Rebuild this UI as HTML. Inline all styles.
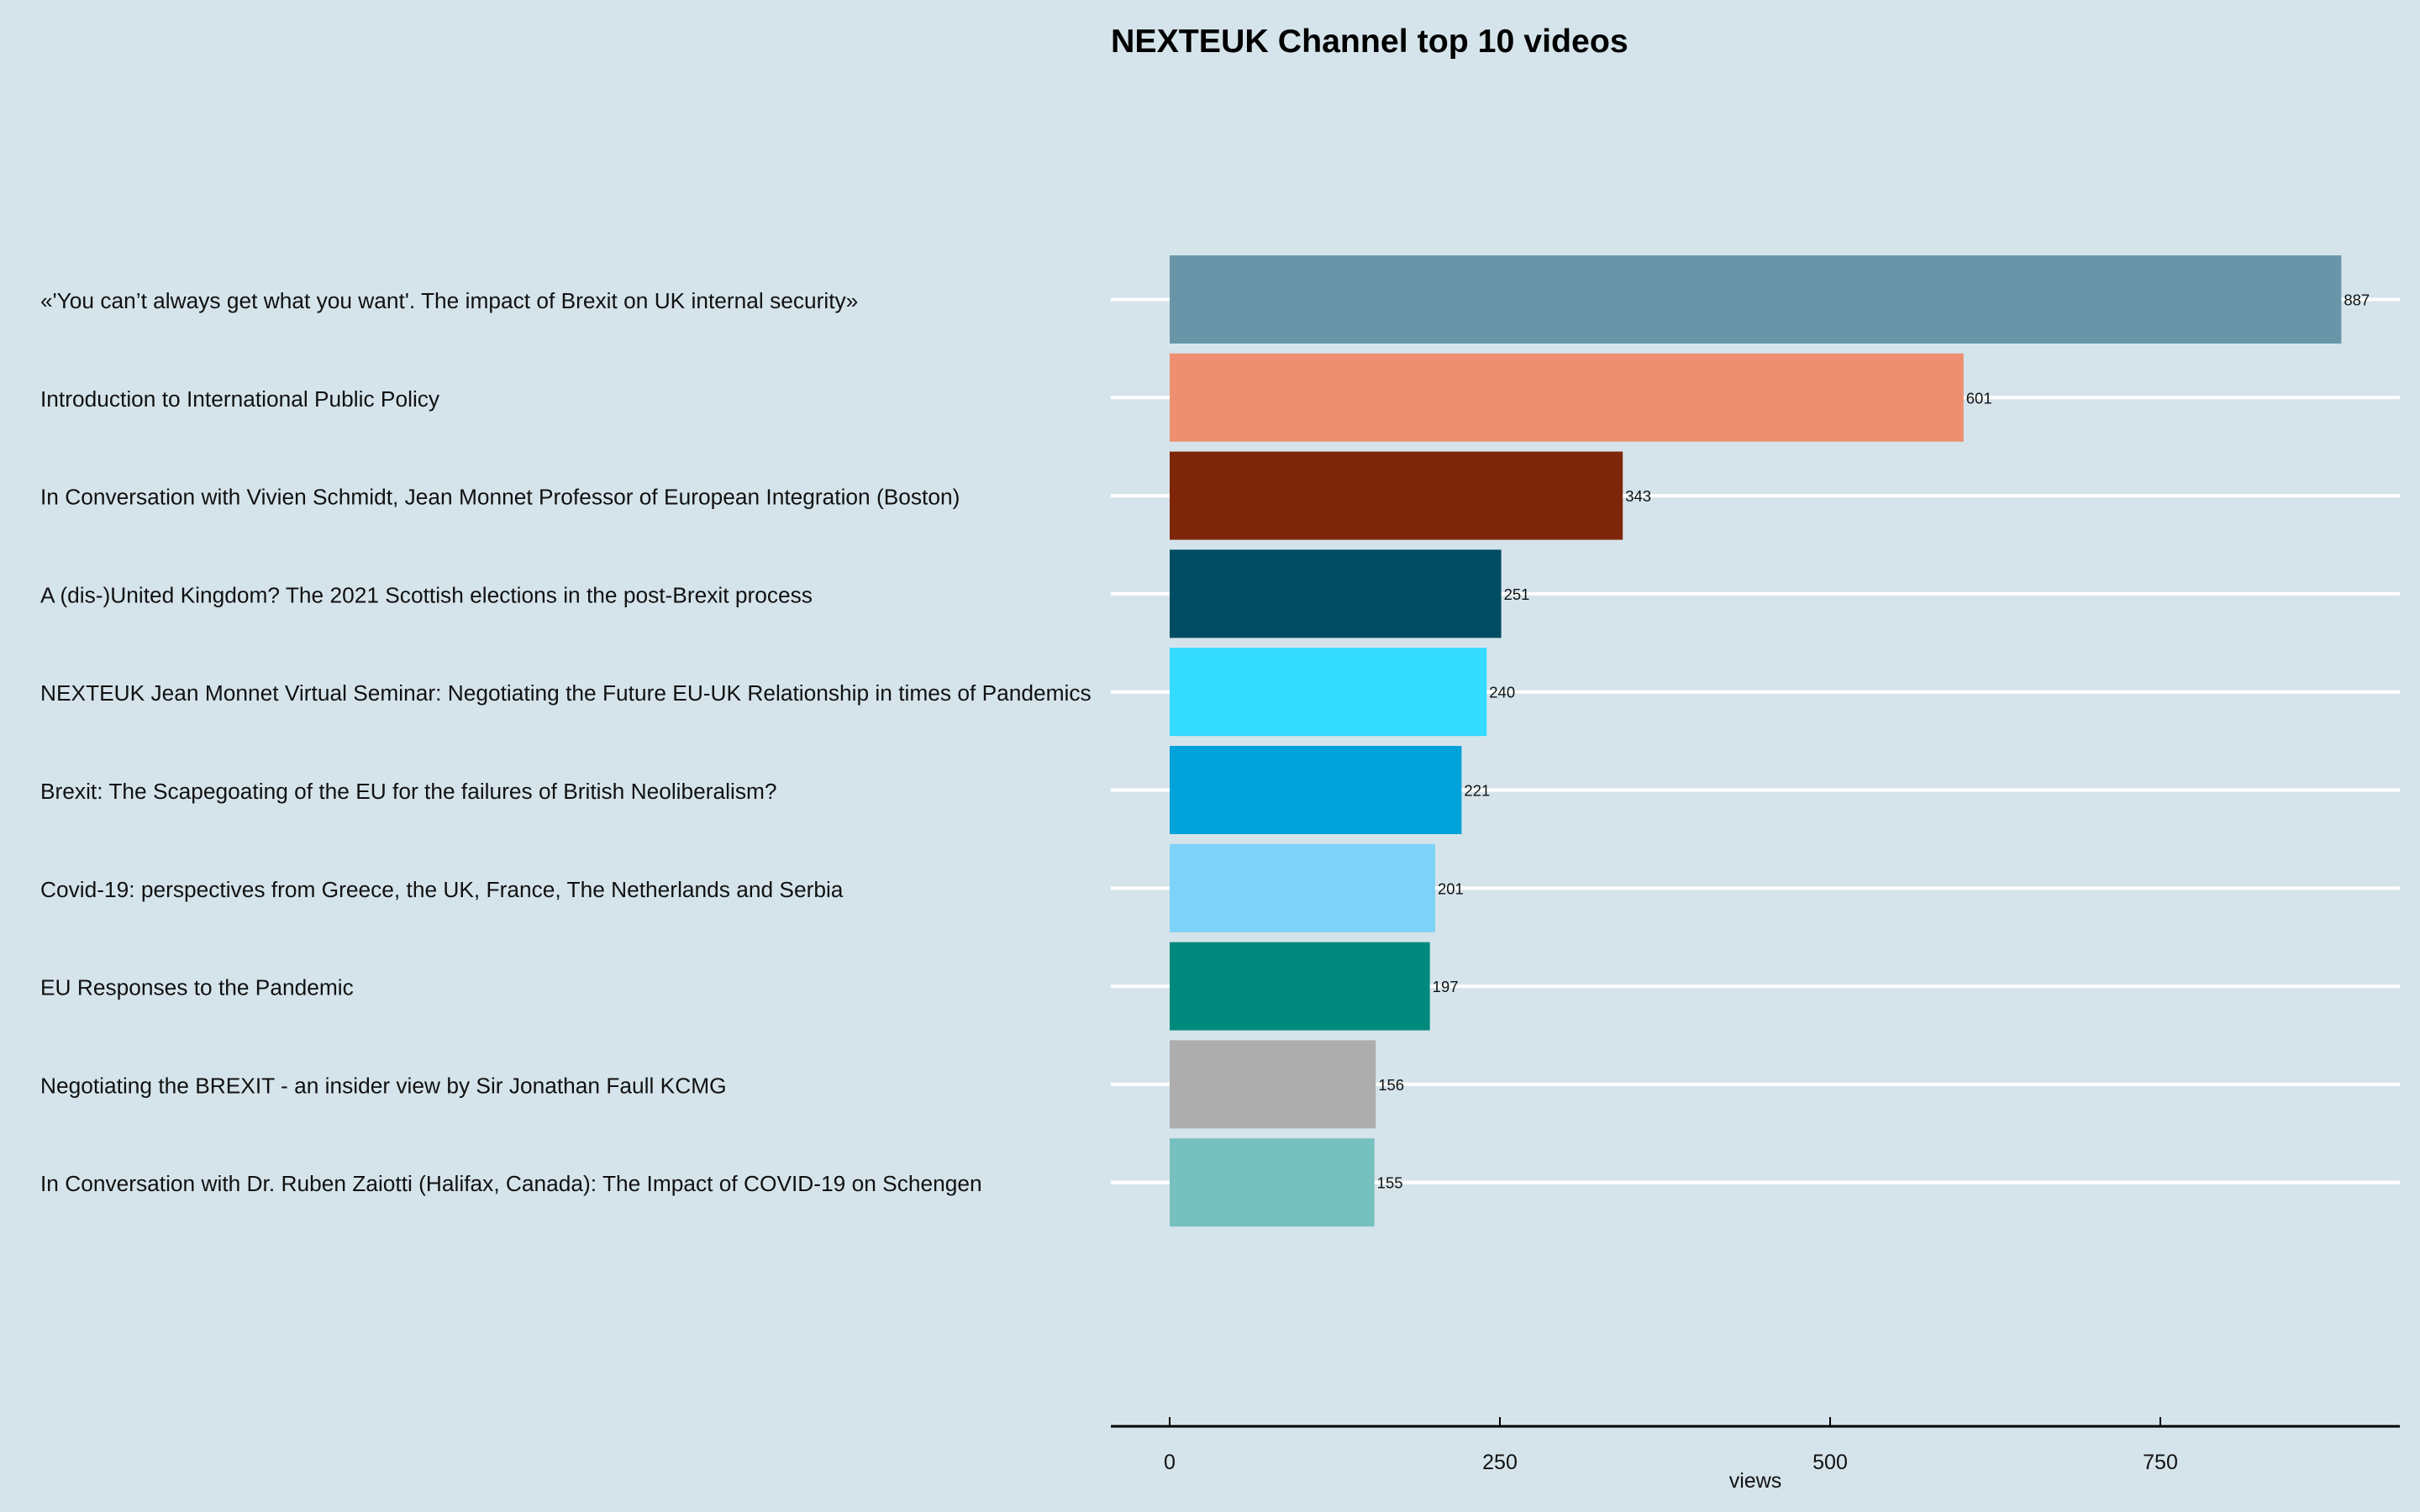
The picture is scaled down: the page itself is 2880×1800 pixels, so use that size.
<!DOCTYPE html>
<html><head><meta charset="utf-8">
<style>
html,body{margin:0;padding:0;background:#d5e4eb;}
svg{display:block;font-family:"Liberation Sans",Arial,sans-serif;}
</style></head>
<body>
<svg id="chart" width="2880" height="1800" viewBox="0 0 2880 1800">
<rect x="0" y="0" width="2880" height="1800" fill="#d5e4eb"/>
<text x="1322" y="62" font-size="39.3" font-weight="bold" fill="#000">NEXTEUK Channel top 10 videos</text>
<g id="grid"></g>
<g id="bars"></g>
<g id="axis"></g>
</svg>
<script>
const categories = [
"«'You can’t always get what you want'. The impact of Brexit on UK internal security»",
"Introduction to International Public Policy",
"In Conversation with Vivien Schmidt, Jean Monnet Professor of European Integration (Boston)",
"A (dis-)United Kingdom? The 2021 Scottish elections in the post-Brexit process",
"NEXTEUK Jean Monnet Virtual Seminar: Negotiating the Future EU-UK Relationship in times of Pandemics",
"Brexit: The Scapegoating of the EU for the failures of British Neoliberalism?",
"Covid-19: perspectives from Greece, the UK, France, The Netherlands and Serbia",
"EU Responses to the Pandemic",
"Negotiating the BREXIT - an insider view by Sir Jonathan Faull KCMG",
"In Conversation with Dr. Ruben Zaiotti (Halifax, Canada): The Impact of COVID-19 on Schengen"
];
const views = [887, 601, 343, 251, 240, 221, 201, 197, 156, 155];
const colors = ["#6896a8","#ee8f72","#7e260a","#004c63","#33dbff","#00a2d9","#7dd3f7","#008a7d","#adadad","#77c0c0"];
const tickValues = [0, 250, 500, 750];
const tickLabels = ["0", "250", "500", "750"];

const NS = "http://www.w3.org/2000/svg";
const x0 = 1392, pxPerUnit = 1.572;
function xScale(v){ return x0 + v * pxPerUnit; }
const yStart = 356.5, step = 116.8, barH = 105;
function yScale(i){ return yStart + i * step; }
function mk(tag, attrs, parent){ const e = document.createElementNS(NS, tag); for (const k in attrs) e.setAttribute(k, attrs[k]); parent.appendChild(e); return e; }

const grid = document.getElementById('grid');
const bars = document.getElementById('bars');
const axis = document.getElementById('axis');

categories.forEach((c, i) => {
  const y = yScale(i);
  const gl = mk('line', {x1:1322, x2:2856, y1:y, y2:y, stroke:'#ffffff', 'stroke-width':4}, grid);
  
  
  const lab = mk('text', {x:48, y:y+10.5, 'font-size':26.3, fill:'#111'}, bars);
  lab.textContent = c;
  
  
  const r = mk('rect', {x:xScale(0), y:y-barH/2, width:xScale(views[i])-xScale(0), height:barH, fill:colors[i]}, bars);
  
  
  const vl = mk('text', {x:xScale(views[i])+3, y:y+7, 'font-size':18.5, fill:'#111'}, bars);
  vl.textContent = views[i];
  
  
});

const al = mk('line', {x1:1322, x2:2856, y1:1698, y2:1698, stroke:'#000', 'stroke-width':3}, axis);


tickValues.forEach((t, i) => {
  const x = xScale(t);
  const tk = mk('line', {x1:x, x2:x, y1:1687, y2:1698, stroke:'#000', 'stroke-width':2}, axis);
  
  
  const tl = mk('text', {x:x, y:1749, 'font-size':25, 'text-anchor':'middle', fill:'#111'}, axis);
  tl.textContent = tickLabels[i];
  
  
});
const xt = mk('text', {x:2089, y:1771, 'font-size':25, 'text-anchor':'middle', fill:'#111'}, axis);
xt.textContent = 'views';


</script>
</body></html>
